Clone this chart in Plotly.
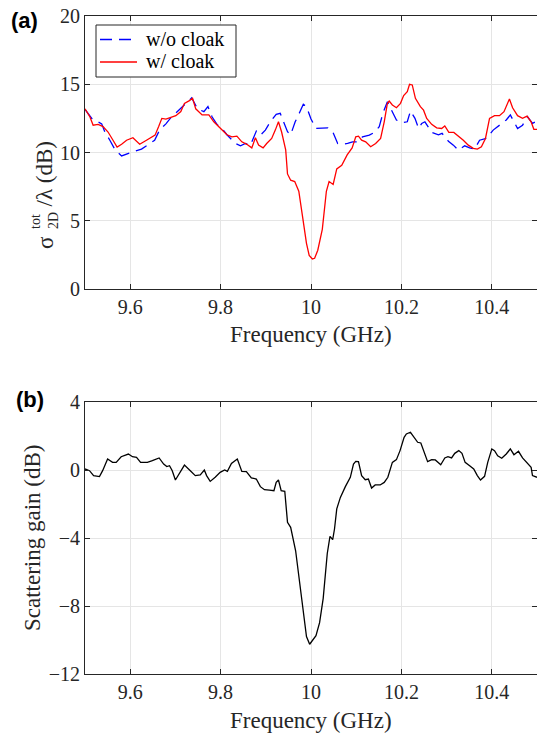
import plotly.graph_objects as go

# ---------------- data ----------------
freq_nocloak = [9.500, 9.515, 9.537, 9.544, 9.555, 9.567, 9.581, 9.595, 9.610, 9.625,
                9.639, 9.654, 9.665, 9.679, 9.690, 9.705, 9.720, 9.736, 9.749, 9.763,
                9.772, 9.781, 9.792, 9.803, 9.814, 9.822, 9.833, 9.844, 9.855, 9.866,
                9.873, 9.879, 9.888, 9.899, 9.910, 9.923, 9.932, 9.939, 9.948, 9.955,
                9.965, 9.974, 9.983, 9.990, 10.000, 10.011, 10.026, 10.037, 10.048, 10.059,
                10.070, 10.081, 10.092, 10.103, 10.114, 10.129, 10.140, 10.151, 10.159, 10.169,
                10.178, 10.189, 10.202, 10.213, 10.220, 10.230, 10.238, 10.245, 10.252, 10.267,
                10.282, 10.290, 10.304, 10.315, 10.326, 10.340, 10.351, 10.362, 10.373, 10.388,
                10.403, 10.417, 10.432, 10.441, 10.450, 10.457, 10.468, 10.479, 10.490, 10.500]
sigma_nocloak = [13.16, 12.5, 12.1, 11.5, 10.9, 10.17, 9.75, 9.93, 10.1, 10.25,
                 10.54, 10.9, 11.64, 12.1, 12.55, 13.0, 13.5, 14.0, 13.2, 12.99,
                 13.36, 12.62, 12.06, 11.76, 11.3, 11.03, 10.66, 10.49, 10.66, 10.54,
                 11.03, 11.57, 11.27, 11.64, 12.25, 12.8, 12.87, 12.25, 11.52, 11.3,
                 12.25, 12.87, 13.53, 13.36, 12.45, 11.76, 11.76, 11.81, 11.52, 10.66,
                 10.6, 10.66, 10.78, 10.78, 11.15, 11.27, 11.47, 11.89, 12.87, 13.72,
                 13.11, 12.38, 12.18, 12.25, 13.04, 12.5, 11.76, 12.13, 12.25, 11.47,
                 11.3, 11.4, 10.83, 10.54, 10.17, 10.49, 10.34, 10.25, 10.9, 11.03,
                 11.64, 12.0, 12.38, 12.75, 12.13, 11.76, 12.0, 12.62, 12.13, 12.3]

freq_cloak = [9.500, 9.511, 9.518, 9.529, 9.540, 9.551, 9.562, 9.571, 9.581, 9.592,
              9.606, 9.621, 9.636, 9.647, 9.655, 9.663, 9.670, 9.679, 9.692, 9.701,
              9.712, 9.720, 9.731, 9.738, 9.745, 9.752, 9.759, 9.774, 9.785, 9.800,
              9.814, 9.825, 9.836, 9.847, 9.858, 9.869, 9.877, 9.884, 9.894, 9.902,
              9.913, 9.921, 9.928, 9.935, 9.940, 9.944, 9.948, 9.955, 9.964, 9.973,
              9.981, 9.990, 9.996, 10.003, 10.008, 10.015, 10.025, 10.034, 10.040, 10.049,
              10.057, 10.068, 10.080, 10.091, 10.099, 10.105, 10.112, 10.121, 10.132, 10.143,
              10.154, 10.162, 10.169, 10.173, 10.180, 10.189, 10.198, 10.205, 10.213, 10.218,
              10.224, 10.231, 10.242, 10.249, 10.256, 10.267, 10.278, 10.289, 10.296, 10.305,
              10.316, 10.326, 10.337, 10.348, 10.359, 10.368, 10.377, 10.386, 10.395, 10.406,
              10.417, 10.427, 10.434, 10.439, 10.446, 10.457, 10.468, 10.478, 10.487, 10.493,
              10.500]
sigma_cloak = [13.2, 12.6, 12.0, 12.06, 11.9, 11.5, 10.9, 10.4, 10.6, 10.9,
               11.08, 10.6, 10.9, 11.15, 11.27, 11.9, 12.5, 12.45, 12.6, 12.7,
               13.0, 13.6, 13.8, 13.97, 13.2, 12.95, 12.75, 12.75, 12.25, 11.76,
               11.3, 11.15, 11.2, 10.78, 10.6, 10.34, 11.08, 10.54, 10.34, 10.66,
               11.03, 11.64, 12.25, 11.5, 10.8, 10.2, 8.43, 7.97, 7.87, 7.16,
               5.38, 3.35, 2.46, 2.2, 2.25, 2.84, 4.37, 7.16, 7.87, 7.66,
               8.8, 9.06, 9.82, 10.33, 11.15, 11.2, 10.9, 10.78, 10.42, 10.66,
               11.03, 12.25, 13.6, 13.77, 13.48, 13.28, 13.6, 14.17, 14.46, 15.0,
               14.95, 13.97, 13.36, 13.1, 12.5, 12.06, 11.81, 11.76, 11.94, 11.47,
               11.47, 11.23, 10.9, 10.54, 10.3, 10.25, 10.42, 11.03, 12.5, 12.7,
               12.7, 12.99, 13.53, 13.92, 13.28, 12.7, 12.5, 12.67, 12.25, 11.7,
               11.7]

freq_gain = [9.500, 9.510, 9.519, 9.532, 9.539, 9.550, 9.561, 9.569, 9.580, 9.587,
             9.596, 9.605, 9.614, 9.623, 9.638, 9.649, 9.664, 9.674, 9.681, 9.687,
             9.693, 9.700, 9.711, 9.720, 9.733, 9.744, 9.755, 9.764, 9.769, 9.777,
             9.788, 9.799, 9.809, 9.815, 9.824, 9.837, 9.847, 9.857, 9.868, 9.879,
             9.888, 9.897, 9.908, 9.918, 9.923, 9.928, 9.934, 9.942, 9.948, 9.955,
             9.966, 9.972, 9.978, 9.985, 9.990, 9.997, 10.003, 10.011, 10.019, 10.027,
             10.036, 10.042, 10.048, 10.052, 10.057, 10.065, 10.076, 10.087, 10.094, 10.099,
             10.105, 10.112, 10.120, 10.127, 10.134, 10.142, 10.153, 10.162, 10.170, 10.180,
             10.189, 10.197, 10.206, 10.211, 10.220, 10.226, 10.236, 10.243, 10.250, 10.258,
             10.267, 10.275, 10.287, 10.296, 10.303, 10.311, 10.318, 10.327, 10.334, 10.341,
             10.351, 10.360, 10.368, 10.375, 10.384, 10.391, 10.400, 10.406, 10.413, 10.422,
             10.432, 10.441, 10.449, 10.459, 10.468, 10.479, 10.487, 10.490, 10.500]
gain_db = [0.06, -0.04, -0.33, -0.39, -0.04, 0.65, 0.45, 0.45, 0.78, 0.84,
           0.94, 0.78, 0.75, 0.45, 0.45, 0.55, 0.71, 0.35, 0.2, 0.25,
           -0.04, -0.59, -0.14, 0.29, -0.04, -0.33, -0.29, 0.0, -0.33, -0.67,
           -0.43, -0.14, 0.0, -0.08, 0.39, 0.65, -0.08, -0.1, -0.47, -0.53,
           -0.98, -1.16, -1.18, -1.22, -0.73, -0.59, -1.22, -1.25, -3.08, -3.37,
           -4.75, -6.0, -7.5, -9.0, -9.8, -10.25, -10.0, -9.75, -8.98, -7.55,
           -4.91, -3.9, -4.1, -3.47, -2.29, -1.61, -0.98, -0.43, 0.35, 0.51,
           0.49, -0.33, -0.57, -0.53, -1.06, -0.88, -0.88, -0.73, -0.43, 0.45,
           0.61, 1.14, 1.92, 2.12, 2.22, 2.02, 1.63, 1.59, 1.04, 0.49,
           0.61, 0.59, 0.31, 0.71, 0.78, 0.71, 0.98, 1.14, 0.98, 0.45,
           0.25, 0.06, -0.33, -0.59, -0.37, 0.45, 1.24, 1.14, 0.84, 0.69,
           0.94, 1.24, 0.9, 1.1, 0.71, 0.39, 0.16, -0.33, -0.43]

x_tickvals = [9.6, 9.8, 10.0, 10.2, 10.4]
x_ticktext = ["9.6", "9.8", "10", "10.2", "10.4"]
ya_tickvals = [0, 5, 10, 15, 20]
yb_tickvals = [-12, -8, -4, 0, 4]
yb_ticktext = ["\u221212", "\u22128", "\u22124", "0", "4"]
legend_names = ["w/o cloak", "w/ cloak"]

# ---------------- layout geometry ----------------
W, H = 537, 734
ML, MR, MT, MB = 85, 0, 16, 60
PW, PH = W - ML - MR, H - MT - MB


def px2x(px):
    return (px - ML) / PW


def py2y(py):
    return (H - MB - py) / PH


SERIF = "Liberation Serif"
AX = "#262626"
BLUE, RED = "#0000ff", "#ff0000"
DASH = "12px,7px"

fig = go.Figure()
fig.add_trace(go.Scatter(x=freq_nocloak, y=sigma_nocloak, mode="lines", name=legend_names[0],
                         line=dict(color=BLUE, width=1.3, dash=DASH), showlegend=False,
                         xaxis="x", yaxis="y"))
fig.add_trace(go.Scatter(x=freq_cloak, y=sigma_cloak, mode="lines", name=legend_names[1],
                         line=dict(color=RED, width=1.3), showlegend=False,
                         xaxis="x", yaxis="y"))
fig.add_trace(go.Scatter(x=freq_gain, y=gain_db, mode="lines", showlegend=False,
                         line=dict(color="#000000", width=1.3),
                         xaxis="x2", yaxis="y2"))

common = dict(showline=True, linecolor=AX, linewidth=1, mirror="ticks", ticks="inside",
              ticklen=5, tickcolor=AX, tickwidth=1, showgrid=True, gridcolor="#e5e5e5",
              gridwidth=1, zeroline=False, automargin=False,
              tickfont=dict(family=SERIF, size=20, color=AX))

top_lo = py2y(289)
bot_hi = py2y(402)

fig.update_layout(
    width=W, height=H, margin=dict(l=ML, r=MR, t=MT, b=MB),
    paper_bgcolor="white", plot_bgcolor="white",
    xaxis=dict(domain=[0, 1], range=[9.5, 10.5], tickvals=x_tickvals, ticktext=x_ticktext,
               anchor="y", **common),
    yaxis=dict(domain=[top_lo, 1], range=[0, 20], tickvals=ya_tickvals, anchor="x", **common),
    xaxis2=dict(domain=[0, 1], range=[9.5, 10.5], tickvals=x_tickvals, ticktext=x_ticktext,
                anchor="y2", **common),
    yaxis2=dict(domain=[0, bot_hi], range=[-12, 4], tickvals=yb_tickvals, ticktext=yb_ticktext,
                anchor="x2", **common),
    showlegend=False,
)

# legend box drawn as shapes + text (compact, MATLAB-like)
shapes = [
    dict(type="rect", x0=px2x(96), x1=px2x(236), y0=py2y(77), y1=py2y(25),
         fillcolor="white", line=dict(color=AX, width=1), layer="above"),
    dict(type="line", x0=px2x(100), x1=px2x(137), y0=py2y(39.5), y1=py2y(39.5),
         line=dict(color=BLUE, width=1.3, dash=DASH), layer="above"),
    dict(type="line", x0=px2x(100), x1=px2x(137), y0=py2y(62), y1=py2y(62),
         line=dict(color=RED, width=1.3), layer="above"),
]
for s in shapes:
    s.update(xref="paper", yref="paper")
fig.update_layout(shapes=shapes)

ann = []
ann.append(dict(text=legend_names[0], x=px2x(144), y=py2y(39), xanchor="left", yanchor="middle",
                font=dict(family=SERIF, size=20, color="black")))
ann.append(dict(text=legend_names[1], x=px2x(144), y=py2y(61), xanchor="left", yanchor="middle",
                font=dict(family=SERIF, size=20, color="black")))
# panel labels
ann.append(dict(text="<b>(a)</b>", x=px2x(9), y=py2y(21), xanchor="left", yanchor="middle",
                font=dict(family="Liberation Sans", size=22, color="black")))
ann.append(dict(text="<b>(b)</b>", x=px2x(14), y=py2y(399), xanchor="left", yanchor="middle",
                font=dict(family="Liberation Sans", size=22, color="black")))
# x titles
for ypx in (334, 720):
    ann.append(dict(text="Frequency (GHz)", x=px2x(311), y=py2y(ypx), xanchor="center",
                    yanchor="middle", font=dict(family=SERIF, size=23, color=AX)))
# bottom y title
ann.append(dict(text="Scattering gain (dB)", x=px2x(32), y=py2y(538), xanchor="center",
                yanchor="middle", textangle=-90, font=dict(family=SERIF, size=23, color=AX)))
# top y title, built from pieces to stack super/subscript
ann.append(dict(text="\u03c3", x=px2x(46), y=py2y(243), xanchor="center", yanchor="middle",
                textangle=-90, font=dict(family=SERIF, size=23, color=AX)))
ann.append(dict(text="tot", x=px2x(36), y=py2y(222), xanchor="center", yanchor="middle",
                textangle=-90, font=dict(family=SERIF, size=14, color=AX)))
ann.append(dict(text="2D", x=px2x(53), y=py2y(221), xanchor="center", yanchor="middle",
                textangle=-90, font=dict(family=SERIF, size=14, color=AX)))
ann.append(dict(text="/\u03bb (dB)", x=px2x(44), y=py2y(209), xanchor="center", yanchor="bottom",
                textangle=-90, font=dict(family=SERIF, size=23, color=AX)))
for a in ann:
    a.update(xref="paper", yref="paper", showarrow=False)
fig.update_layout(annotations=ann)

fig.write_html("out.html", config={"displayModeBar": False},
               post_script="document.body.style.margin='0';document.body.style.overflow='hidden';")
